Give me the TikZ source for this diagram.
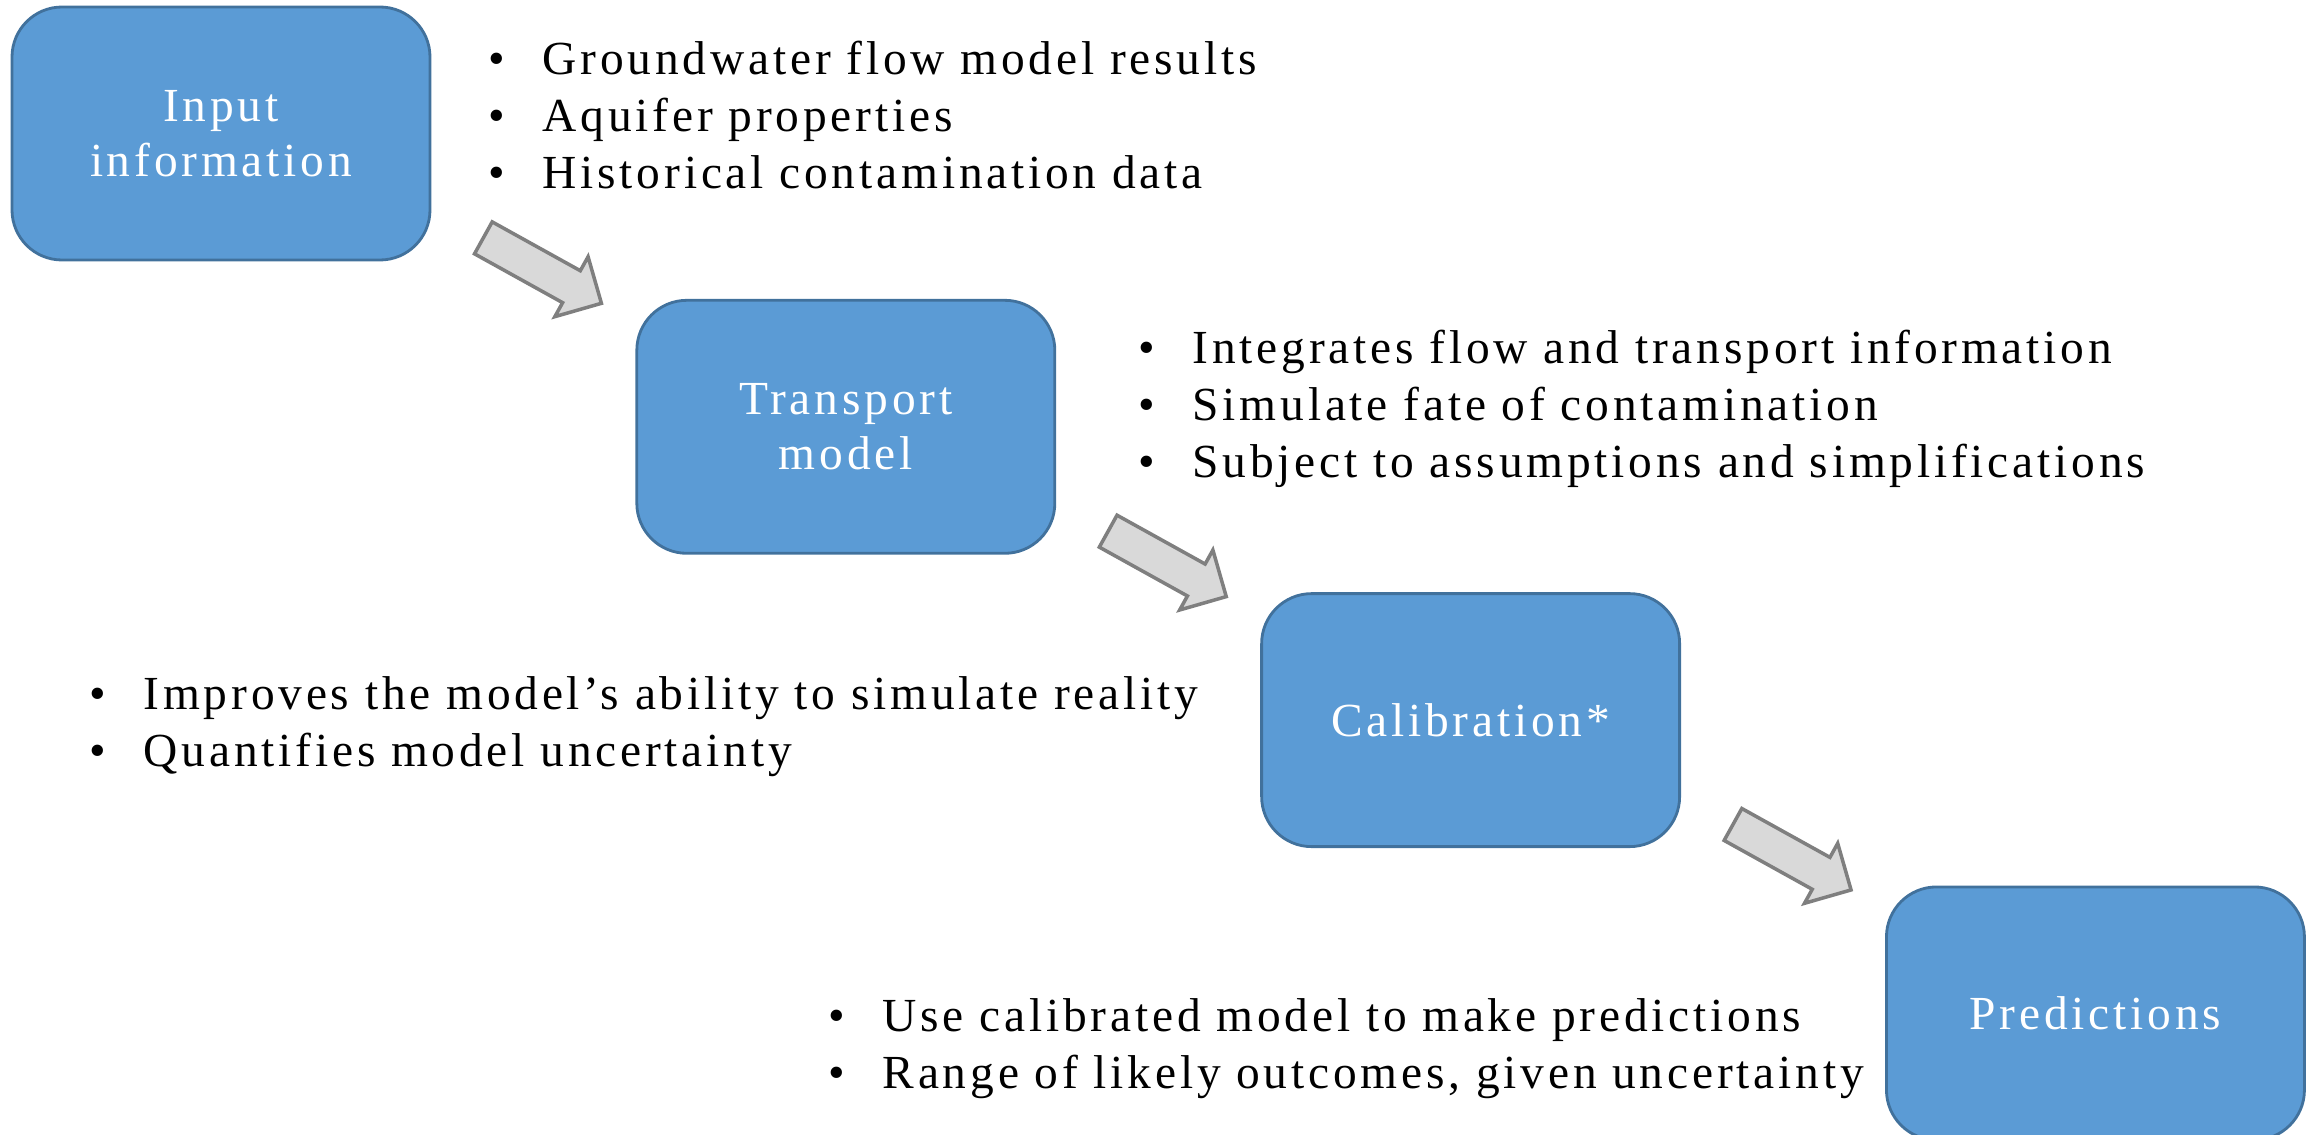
\documentclass[tikz,border=0pt]{standalone}
\usepackage{fontspec}
\setmainfont{Liberation Serif}[LetterSpace=8]
\usetikzlibrary{%
  calc,% midpoints of the arrows
  positioning,% wg. " of "
  shapes.arrows%
}
\definecolor{boxblue}{HTML}{5B9BD5}
\definecolor{boxline}{HTML}{41719C}
\definecolor{arrowfill}{HTML}{D9D9D9}
\definecolor{arrowline}{HTML}{7F7F7F}
\newcommand{\bul}[1]{\makebox[0.54cm][l]{\textbullet}#1}

\begin{document}
\begin{tikzpicture}[
    stepbox/.style={rectangle,draw=boxline,line width=0.8pt,fill=boxblue,
        rounded corners=5mm,minimum width=4.18cm,minimum height=2.53cm,
        text=white,align=center,font=\fontsize{13.5}{15.6}\selectfont},
    blockarrow/.style={single arrow,draw=arrowline,fill=arrowfill,line width=1pt,
        minimum height=13.5mm,single arrow head extend=1.6mm,
        inner xsep=0pt,inner ysep=1.65mm,rotate=-29},
    notes/.style={anchor=west,align=left,inner sep=0pt,
        font=\fontsize{13.5}{16.2}\selectfont},
    node distance=3.75mm and 20.4mm
  ]
    \useasboundingbox (0,0) rectangle (23.18,-11.35);

    % the four steps
    \node[stepbox] (input) at (2.21,-1.335) {Input\\information};
    \node[stepbox,below right=of input]     (transport) {Transport\\model};
    \node[stepbox,below right=of transport] (calib)     {Calibration*};
    \node[stepbox,below right=of calib]     (pred)      {Predictions};

    % block arrows between them
    \foreach \from/\to [count=\i] in {input/transport,transport/calib,calib/pred}
      \node[blockarrow] (arr\i)
        at ($(\from.south east)!0.5!(\to.north west)+(0.01,0.14)$) {};

    % notes
    \node[notes] (inputnotes) at (4.88,-1.15)
      {\bul{Groundwater flow model results}\\
       \bul{Aquifer properties}\\
       \bul{Historical contamination data}};
    \node[notes] (transportnotes) at (11.38,-4.09)
      {\bul{Integrates flow and transport information}\\
       \bul{Simulate fate of contamination}\\
       \bul{Subject to assumptions and simplifications}};
    \node[notes] (calibnotes) at (0.89,-7.27)
      {\bul{Improves the model’s ability to simulate reality}\\
       \bul{Quantifies model uncertainty}};
    \node[notes] (prednotes) at (8.28,-10.49)
      {\bul{Use calibrated model to make predictions}\\
       \bul{Range of likely outcomes, given uncertainty}};
\end{tikzpicture}
\end{document}
